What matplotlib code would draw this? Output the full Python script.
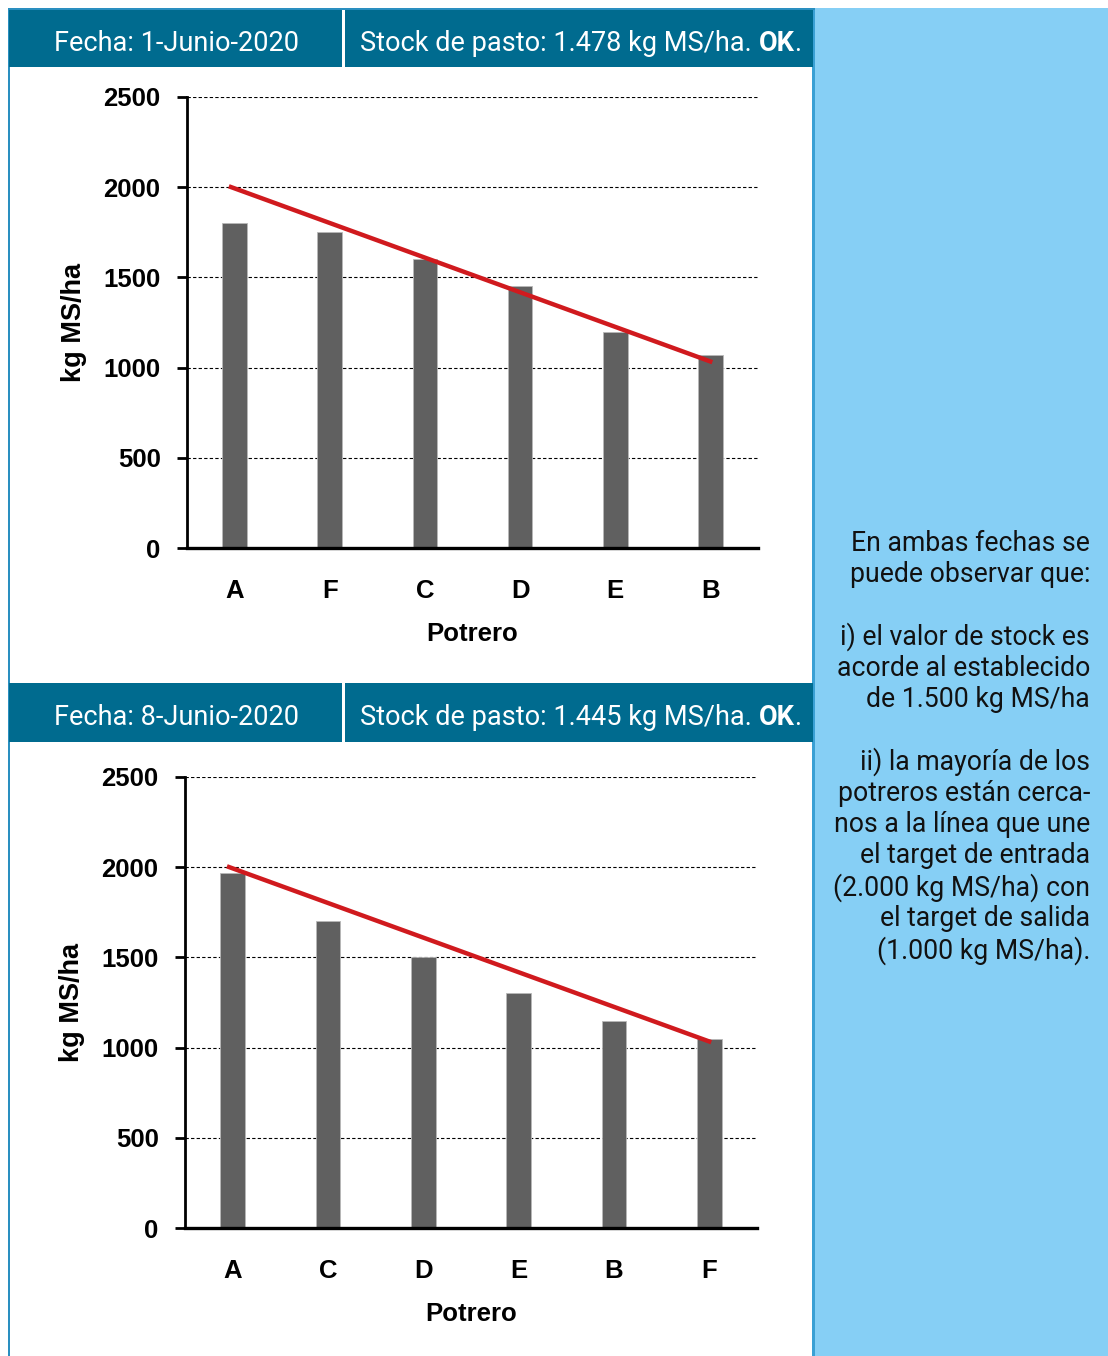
import matplotlib
matplotlib.use("Agg")
from matplotlib import pyplot as plt
from matplotlib.patches import Rectangle

# datos de los dos recorridos
potreros_1 = ["A", "F", "C", "D", "E", "B"]
pasto_1 = [1800, 1750, 1600, 1450, 1200, 1070]
potreros_2 = ["A", "C", "D", "E", "B", "F"]
pasto_2 = [1970, 1700, 1500, 1300, 1150, 1050]
target_x = [-0.06, 5.02]
target_y = [2005, 1030]

headers = [("Fecha: 1-Junio-2020", "Stock de pasto: 1.478 kg MS/ha. "),
           ("Fecha: 8-Junio-2020", "Stock de pasto: 1.445 kg MS/ha. ")]
nota = ("En ambas fechas se\npuede observar que:\n\n"
        "i) el valor de stock es\nacorde al establecido\nde 1.500 kg MS/ha\n\n"
        "ii) la mayoría de los\npotreros están cerca-\nnos a la línea que une\n"
        "el target de entrada\n(2.000 kg MS/ha) con\nel target de salida\n(1.000 kg MS/ha).")

W, H = 1108, 1356
HEAD = "#006b8f"
PANEL = "#86cff5"
BAR = "#606060"
RED = "#d01a1e"


def box(x0, y0, x1, y1):
    return [x0 / W, 1 - y1 / H, (x1 - x0) / W, (y1 - y0) / H]


def rect(fig, x0, y0, x1, y1, color, z=0):
    fig.patches.append(Rectangle((x0 / W, 1 - y1 / H), (x1 - x0) / W, (y1 - y0) / H,
                                 transform=fig.transFigure, color=color, zorder=z, lw=0))


def chart(fig, pos, cats, vals):
    ax = fig.add_axes(box(*pos))
    x = range(len(cats))
    ax.bar(x, vals, width=0.26, color=BAR, edgecolor="#b8b8b8", linewidth=0.6, zorder=2)
    ax.plot(target_x, target_y, color=RED, lw=3.2, zorder=3, solid_capstyle="butt")
    ax.set_xlim(-0.5, 5.5)
    ax.set_ylim(0, 2500)
    ax.set_yticks(range(0, 2501, 500))
    for v in range(500, 2501, 500):
        ax.axhline(v, color="black", lw=0.8, ls=(0, (3, 2)), zorder=1)
    ax.set_xticks(list(x))
    ax.set_xticklabels(cats)
    ax.tick_params(axis="x", length=0, pad=22)
    ax.tick_params(axis="y", length=7, width=2, direction="out", pad=12)
    for lab in ax.get_xticklabels() + ax.get_yticklabels():
        lab.set_fontfamily("Liberation Sans")
        lab.set_fontweight("bold")
        lab.set_fontsize(18.5)
    for s in ["top", "right"]:
        ax.spines[s].set_visible(False)
    ax.spines["left"].set_linewidth(2)
    ax.spines["bottom"].set_linewidth(2.4)
    ax.set_xlabel("Potrero", fontfamily="Liberation Sans", fontweight="bold", fontsize=18.5, labelpad=14)
    ax.set_ylabel("kg MS/ha", fontfamily="Liberation Sans", fontweight="bold", fontsize=19.5, labelpad=12)
    ax.set_facecolor("none")
    return ax


fig = plt.figure(figsize=(W / 100, H / 100), dpi=100)
fig.patch.set_facecolor("white")

# panel derecho y bordes
rect(fig, 815, 8, W, H, PANEL)
rect(fig, 812, 8, 815, H, "#3aa0d4")
rect(fig, 8, 8, 9.5, H, "#2a8fc0")
rect(fig, 8, 8, 815, 9.5, "#2a8fc0")

# cabeceras
for (fecha, stock), (y0, y1) in zip(headers, [(10, 67), (683, 742)]):
    rect(fig, 9, y0, 813, y1, HEAD)
    rect(fig, 342, y0, 345, y1, "white", 1)
    yc = 1 - ((y0 + y1) / 2 + 5) / H
    fig.text(176 / W, yc, fecha, color="white", fontsize=19.5, fontfamily="Roboto",
             ha="center", va="center")
    t = fig.text(360 / W, yc, stock, color="white", fontsize=19.5, fontfamily="Roboto",
                 ha="left", va="center")
    fig.canvas.draw()
    bb = t.get_window_extent()
    fig.text(bb.x1 / W, yc, "OK", color="white", fontsize=19.5, fontfamily="Roboto",
             fontweight="bold", ha="left", va="center")
    t2 = fig.texts[-1]
    fig.canvas.draw()
    fig.text(t2.get_window_extent().x1 / W, yc, ".", color="white", fontsize=19.5,
             fontfamily="Roboto", ha="left", va="center")

chart(fig, (187, 97, 758, 548), potreros_1, pasto_1)
chart(fig, (185, 777, 757, 1228), potreros_2, pasto_2)

fig.text(1090 / W, 1 - 530 / H, nota, ha="right", va="top", fontsize=19.2,
         fontfamily="Roboto", linespacing=1.18, color="#111111")

fig.savefig("out.png", dpi=100)
